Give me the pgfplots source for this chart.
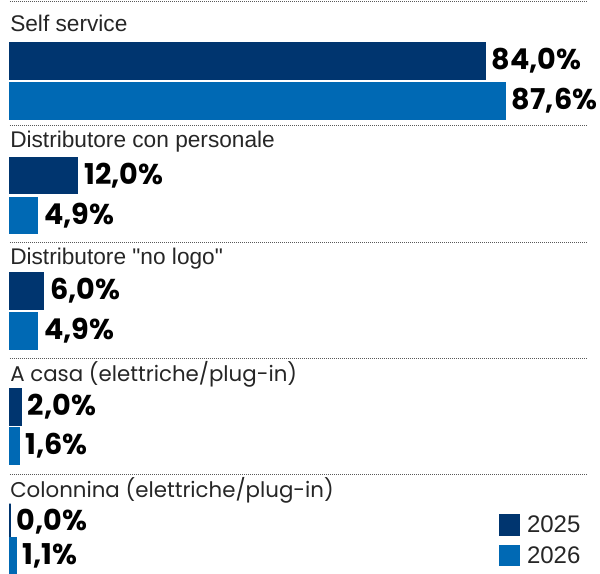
\documentclass[border=0pt]{standalone}
\usepackage{fontspec}
\setmainfont{Liberation Sans}[Ligatures=TeXOff]
\newfontfamily\popfont{Poppins}
\usepackage{pgfplots}
\pgfplotsset{compat=1.18}
\definecolor{c25}{HTML}{00356F}
\definecolor{c26}{HTML}{0069B4}
\definecolor{txt}{HTML}{262626}
\tikzset{sep/.style={gray!70!black, line width=0.75pt, dash pattern=on 0.75pt off 0.75pt}}
\begin{document}
\begin{tikzpicture}
\begin{axis}[
  width=450pt, height=430.5pt, scale only axis,
  xmin=-1.768, xmax=104.33, ymin=0, ymax=574, y dir=reverse,
  hide axis, clip=true,
  xbar, bar shift=0pt, bar width=36,
  nodes near coords={\pgfmathprintnumber[fixed,fixed zerofill,precision=1,use comma,assume math mode=true]{\pgfplotspointmeta}\%},
  every node near coord/.style={anchor=west, inner sep=0pt, xshift=4.5pt, font=\popfont\bfseries\fontsize{21.5}{21.5}\selectfont, text=black},
  legend style={at={(axis cs:86.47,514)}, anchor=north west, draw=none, fill=none, inner sep=0pt,
    font=\fontsize{18}{18}\selectfont, text=txt, row sep=7pt,
    nodes={inner sep=1pt},
    cells={anchor=west},
    /tikz/every odd column/.append style={column sep=4pt}},
  legend image code/.code={\fill[#1] (0pt,-7.5pt) rectangle (15pt,7.5pt);},
]
\addplot[fill=c25, draw=c25, line width=0.8pt] coordinates {(84.0,61) (12.0,175.5) (6.0,291) (2.0,407) (0.0,521.5)};
\addlegendentry{2025}
\addplot[fill=c26, draw=c26, line width=0.8pt] coordinates {(87.6,101) (4.9,215.5) (4.9,331) (1.6,446) (1.1,556)};
\addlegendentry{2026}
\path[draw=none] (rel axis cs:0,0) rectangle (rel axis cs:1,1);
\draw[sep] (axis cs:0,1.5) -- (axis cs:102.0,1.5);
\draw[sep] (axis cs:0,126) -- (axis cs:102.0,126);
\draw[sep] (axis cs:0,243) -- (axis cs:102.0,243);
\draw[sep] (axis cs:0,358) -- (axis cs:102.0,358);
\draw[sep] (axis cs:0,474) -- (axis cs:102.0,474);
\node[anchor=base west, inner sep=0pt, text=txt, font=\fontsize{17}{17}\selectfont] at (axis cs:0,32) {Self service};
\node[anchor=base west, inner sep=0pt, text=txt, font=\fontsize{17}{17}\selectfont] at (axis cs:0,148) {Distributore con personale};
\node[anchor=base west, inner sep=0pt, text=txt, font=\fontsize{17}{17}\selectfont] at (axis cs:0,264) {Distributore "no logo"};
\node[anchor=base west, inner sep=0pt, text=txt, font=\popfont\fontsize{16}{16}\selectfont] at (axis cs:0,381) {A casa (elettriche/plug-in)};
\node[anchor=base west, inner sep=0pt, text=txt, font=\popfont\fontsize{16}{16}\selectfont] at (axis cs:0,497) {Colonnina (elettriche/plug-in)};
\end{axis}
\end{tikzpicture}
\end{document}
